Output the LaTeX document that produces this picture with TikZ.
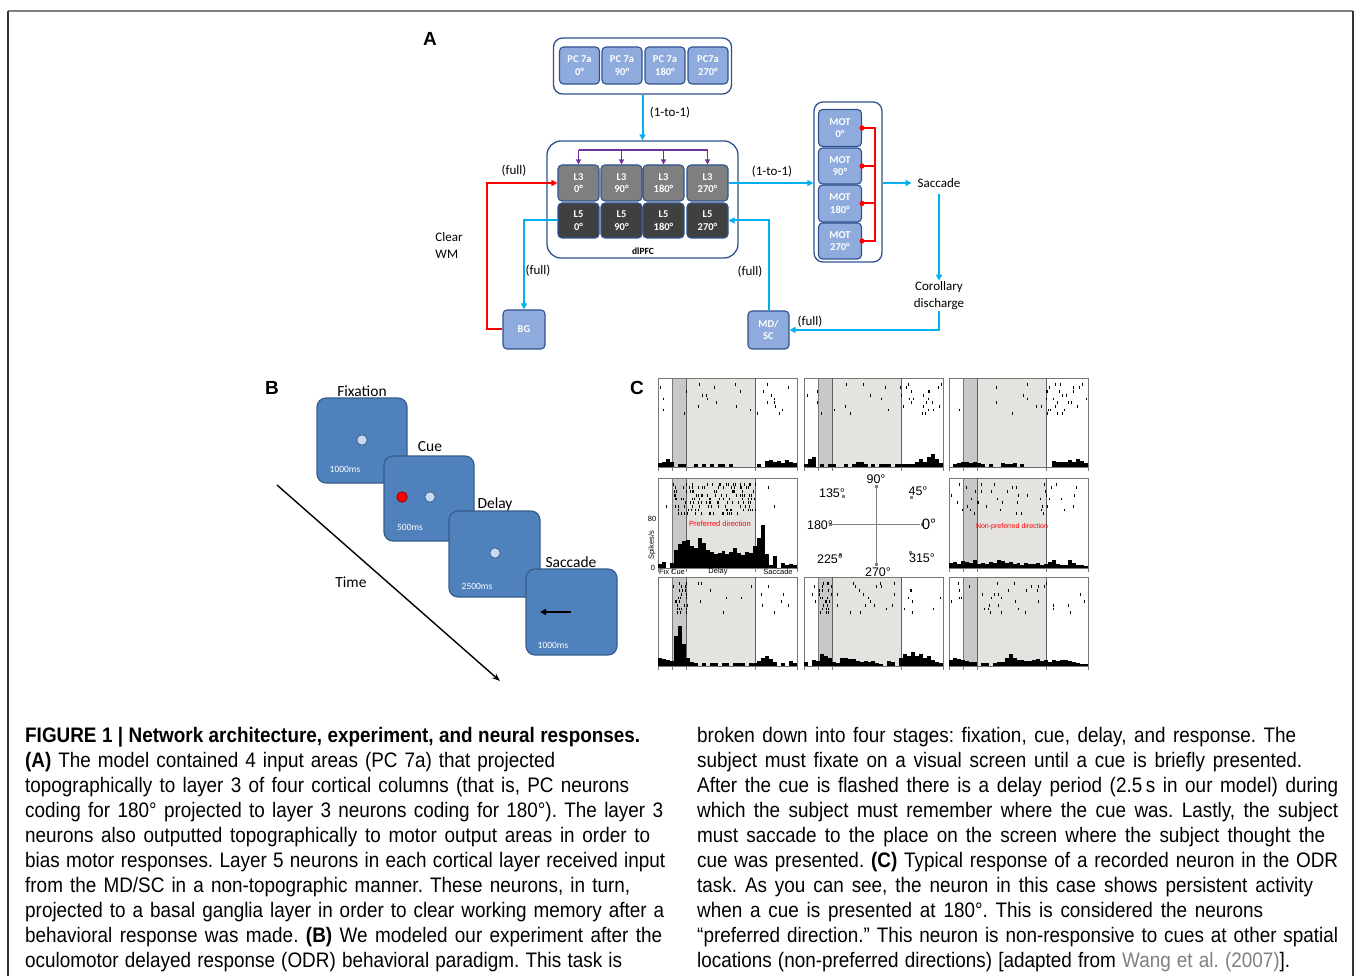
\documentclass[tikz,border=0pt]{standalone}
\usepackage{fontspec}
\setmainfont{Liberation Sans}
\newfontfamily\carl{Carlito}
\newfontfamily\capfont{Liberation Sans}[FakeStretch=0.9]
\usetikzlibrary{arrows.meta}
\definecolor{boxfill}{RGB}{143,170,220}
\definecolor{boxline}{RGB}{47,82,143}
\definecolor{cyanA}{RGB}{0,176,240}
\definecolor{purp}{RGB}{112,48,160}
\definecolor{lthree}{RGB}{127,127,127}
\definecolor{lfive}{RGB}{64,64,64}
\definecolor{scr}{RGB}{79,129,189}
\definecolor{scrline}{RGB}{56,93,138}
\definecolor{dotc}{RGB}{198,217,241}
\definecolor{dband}{RGB}{200,200,198}
\definecolor{lband}{RGB}{229,227,223}
\definecolor{fram}{RGB}{120,120,120}
\definecolor{citeg}{RGB}{128,128,128}
\tikzset{
  tip/.style={-{Triangle[length=6pt,width=6pt]}},
  cl/.style={draw=cyanA,line width=2pt},
  redl/.style={draw=red,line width=2pt},
  pline/.style={draw=purp,line width=1.5pt},
  cont/.style={draw=boxline,line width=1.3pt,rounded corners=9pt,fill=white},
  bbox/.style={draw=boxline,line width=1.1pt,rounded corners=4pt,fill=boxfill,text=white,
     font=\carl\bfseries\fontsize{10.5}{12.5}\selectfont,align=center,inner sep=0pt},
  lthreebox/.style={bbox,fill=lthree,minimum width=41,minimum height=36},
  lfivebox/.style={bbox,fill=lfive,minimum width=41,minimum height=35},
  lab/.style={font=\carl\fontsize{13}{17}\selectfont,inner sep=1pt},
  screen/.style={draw=scrline,line width=1.2pt,rounded corners=9pt,fill=scr},
  scrlab/.style={font=\carl\fontsize{15.5}{17}\selectfont,inner sep=0pt},
  mslab/.style={font=\carl\fontsize{9.5}{11}\selectfont,text=white,inner sep=0pt},
  dotn/.style={circle,fill=dotc,draw=scrline,line width=0.8pt,minimum size=10.5,inner sep=0pt},
  panlet/.style={font=\bfseries\fontsize{19}{21}\selectfont,inner sep=0pt},
  tk/.style={draw=black,line width=0.7pt},
  clab/.style={font=\fontsize{12.5}{14}\selectfont,inner sep=0pt},
  smlab/.style={font=\fontsize{7.5}{9}\selectfont,inner sep=0pt},
  capt/.style={font=\capfont\fontsize{21}{25}\selectfont\frenchspacing,inner sep=0pt,anchor=base west},
}
\newcommand\myras[7]{%
  \foreach \rr in {1,...,#3}{%
    \foreach \kk in {1,...,#4}{%
      \pgfmathsetmacro\xx{#1+2+rnd*135}%
      \draw[tk] (\xx,#2+1+\rr*3.7) -- ++(0,2.8);
    }%
    \foreach \kk in {1,...,#7}{%
      \pgfmathsetmacro\xx{#1+#5+rnd*(#6-#5)}%
      \draw[tk] (\xx,#2+1+\rr*3.7) -- ++(0,2.8);
    }%
  }%
}
\newcommand\myhist[3]{%
  \foreach \hh [count=\ii] in {#3}{%
    \fill[black] (#1+\ii*3.97-3.97,#2) rectangle ++(3.97,-\hh);
  }%
}
\newcommand\mypanel[3]{%
  \fill[dband] (#1+14,#2) rectangle (#1+28,#3);
  \fill[lband] (#1+28,#2) rectangle (#1+97,#3);
  \draw[fram,line width=0.6pt] (#1,#2) rectangle (#1+139,#3);
  \draw[fram,line width=0.5pt] (#1+14,#2) -- (#1+14,#3);
  \draw[fram!80!black,line width=0.8pt] (#1+28,#2) -- (#1+28,#3);
  \draw[fram!80!black,line width=0.8pt] (#1+97,#2) -- (#1+97,#3);
  \foreach \tt in {0,14,28,97,139}{\draw[fram,line width=0.6pt] (#1+\tt,#3) -- ++(0,4);}
}
\begin{document}
\begin{tikzpicture}[x=1pt,y=-1pt]
\useasboundingbox (0,0) rectangle (1355,976);
\fill[white] (0,0) rectangle (1355,976);
% frame
\draw[line width=1.5pt,gray] (8,11) -- (1353,11);
\draw[line width=1.5pt,black!80] (8,11) -- (8,976);
\draw[line width=1.5pt,black!80] (1353,11) -- (1353,976);

% ---------------- Panel A ----------------
\node[panlet] (A) at (430,39) {A};
\node[cont,minimum width=178,minimum height=56] (pcc) at (642.5,66) {};
\node[bbox,minimum width=40,minimum height=37] (pc0) at (579.5,65.5) {PC 7a\\0°};
\node[bbox,minimum width=40,minimum height=37] (pc1) at (622,65.5) {PC 7a\\90°};
\node[bbox,minimum width=40,minimum height=37] (pc2) at (665,65.5) {PC 7a\\180°};
\node[bbox,minimum width=40,minimum height=37] (pc3) at (708,65.5) {PC7a\\270°};

\node[cont,minimum width=191,minimum height=117,rounded corners=14pt] (dl) at (642.5,199.5) {};
\draw[cl,tip] (pcc.south) -- (dl.north);
\node[lab] (l11) at (670,113) {(1-to-1)};
\node[font=\carl\bfseries\fontsize{9.5}{11}\selectfont,inner sep=0pt] (dlt) at (643,251) {dlPFC};
\node[lthreebox] (a0) at (578.5,183) {L3\\0°};
\node[lthreebox] (a1) at (621.5,183) {L3\\90°};
\node[lthreebox] (a2) at (663.5,183) {L3\\180°};
\node[lthreebox] (a3) at (707.5,183) {L3\\270°};
\node[lfivebox] (b0) at (578.5,220.5) {L5\\0°};
\node[lfivebox] (b1) at (621.5,220.5) {L5\\90°};
\node[lfivebox] (b2) at (663.5,220.5) {L5\\180°};
\node[lfivebox] (b3) at (707.5,220.5) {L5\\270°};
\coordinate (ptop) at (600,150);
\draw[pline] (a0.north |- ptop) -- (a3.north |- ptop);
\foreach \n in {a0,a1,a2,a3}{\draw[pline,-{Triangle[length=5pt,width=5pt]}] (\n.north |- ptop) -- (\n.north);}

% MOT
\node[cont,minimum width=68,minimum height=160,rounded corners=9pt] (mot) at (848,182) {};
\node[bbox,minimum width=43,minimum height=37] (m0) at (840,128) {MOT\\0°};
\node[bbox,minimum width=43,minimum height=36] (m1) at (840,166) {MOT\\90°};
\node[bbox,minimum width=43,minimum height=37] (m2) at (840,203.5) {MOT\\180°};
\node[bbox,minimum width=43,minimum height=36] (m3) at (840,241) {MOT\\270°};
\coordinate (rx) at (875,0);
\draw[redl] (m0.east) -- (m0.east -| rx) -- (m3.east -| rx) -- (m3.east);
\draw[redl] (m1.east) -- (m1.east -| rx);
\draw[redl] (m2.east) -- (m2.east -| rx);
\foreach \n in {m0,m1,m2,m3}{\fill[red] (\n.east) circle (2.6);}

\draw[cl,tip] (a3.east) -- (a3.east -| mot.west);
\node[lab] (l12) at (772,172) {(1-to-1)};
\node[lab,inner sep=6pt] (sac) at (939,183) {Saccade};
\draw[cl,tip] (mot.east |- a3.east) -- (sac.west);
\node[lab,align=center] (cor) at (939,296) {Corollary\\discharge};
\draw[cl,tip] (sac.south) -- (cor.north);

% BG and MD/SC
\node[bbox,minimum width=42,minimum height=39] (bg) at (524,329.5) {BG};
\node[bbox,minimum width=41,minimum height=38] (md) at (768.5,330) {MD/\\SC};
\draw[cl,tip] (cor.south) |- (md.east);
\node[lab] (lf5) at (810,322) {(full)};
\draw[cl,tip] (md.north) |- (b3.east);
\node[lab] (lf4) at (750,272) {(full)};
\draw[cl,tip] (b0.west) -| (bg.north);
\node[lab] (lf3) at (538,271) {(full)};
\coordinate (redx) at (487,0);
\draw[redl,tip] (bg.west) -- (bg.west -| redx) -- (redx |- a0.west) -- (a0.west);
\node[lab] (lf1) at (514,171) {(full)};
\node[lab,align=left] (cwm) at (449,245) {Clear\\WM};

% ---------------- Panel B ----------------
\node[panlet] (B) at (272,388) {B};
\node[screen,minimum width=90,minimum height=85] (s1) at (362,440.5) {};
\node[screen,minimum width=90,minimum height=85] (s2) at (429,498.5) {};
\node[screen,minimum width=91,minimum height=86] (s3) at (494.5,554) {};
\node[screen,minimum width=91,minimum height=86] (s4) at (571.5,612) {};
\node[dotn] (d1) at (362,440) {};
\node[dotn,fill=red,draw=red!60!black] (d2) at (402,497) {};
\node[dotn] (d3) at (430,497) {};
\node[dotn] (d4) at (495,553) {};
\coordinate (sa1) at (571,612);
\coordinate (sa2) at (540,612);
\draw[black,line width=1.6pt,-{Triangle[length=6pt,width=6pt]}] (sa1) -- (sa2);
\node[scrlab] (tf) at (362,391) {Fixation};
\node[scrlab] (tc) at (430,447) {Cue};
\node[scrlab] (td) at (495,504) {Delay};
\node[scrlab] (ts) at (571,562) {Saccade};
\node[mslab] (ms1) at (345,469) {1000ms};
\node[mslab] (ms2) at (410,527) {500ms};
\node[mslab] (ms3) at (477,586) {2500ms};
\node[mslab] (ms4) at (553,645) {1000ms};
\coordinate (t0) at (277,485);
\coordinate (t1) at (500,681);
\draw[black,line width=1.4pt,-{Stealth[length=8pt,width=6pt]}] (t0) -- (t1);
\node[scrlab] (time) at (351,582) {Time};

% ---------------- Panel C ----------------
\node[panlet] (C) at (637,388) {C};
\pgfmathsetseed{4242}
% row 1
\mypanel{658}{378}{467}
\myras{658}{378}{9}{2}{97}{139}{1}
\myhist{658}{467}{4,5,8,5,0,3,3,0,0,3,0,3,0,3,0,3,3,0,3,0,0,0,0,0,0,3,0,6,7,5,6,4,7,5,4}
\mypanel{804}{378}{467}
\myras{804}{378}{9}{2}{97}{139}{2}
\myhist{804}{467}{3,8,10,0,3,0,3,3,0,0,3,0,3,5,5,3,0,3,0,3,3,3,0,3,3,3,3,3,5,8,5,10,13,8,4}
\mypanel{949}{378}{467}
\myras{949}{378}{9}{2}{97}{139}{2}
\myhist{949}{467}{0,3,4,5,5,4,5,4,3,0,3,0,0,4,3,3,4,0,3,0,0,0,0,0,0,0,6,5,5,5,7,5,8,6,4}
% row 2
\mypanel{658}{478}{568}
\myras{658}{478}{9}{2}{15}{98}{14}
\myhist{658}{568}{4,6,0,5,18,24,27,28,22,20,30,25,18,16,14,15,17,14,16,20,15,13,16,15,22,30,43,14,3,12,0,5,3,4,3}
\mypanel{949}{478}{568}
\myras{949}{478}{9}{2}{15}{98}{3}
\myhist{949}{568}{5,6,4,7,6,5,8,4,5,4,6,5,8,7,5,6,4,5,3,5,4,4,5,3,4,6,8,4,3,3,8,5,3,3,2}
% row 3
\mypanel{658}{577}{666}
\myras{658}{577}{9}{2}{15}{29}{3}
\myhist{658}{666}{8,7,6,5,30,40,22,8,4,3,0,3,0,3,3,0,3,3,0,3,3,3,0,3,3,5,8,10,7,4,0,3,0,5,3}
\mypanel{804}{577}{666}
\myras{804}{577}{9}{4}{15}{29}{2}
\myhist{804}{666}{4,0,6,5,12,10,8,4,3,8,8,7,7,5,4,5,4,5,3,2,0,5,4,0,8,12,10,14,10,12,8,10,6,4,3}
\mypanel{949}{577}{666}
\myras{949}{577}{9}{2}{28}{97}{2}
\myhist{949}{666}{6,8,7,6,5,4,4,0,3,3,0,3,4,4,8,12,8,6,6,5,5,6,7,5,6,4,6,5,6,6,5,4,3,2,2}

% panel labels
\node[smlab,text=red] (pref) at (720,524) {Preferred direction};
\node[smlab,text=red,font=\fontsize{7}{8}\selectfont] (npref) at (1012,527) {Non-preferred direction};
\node[smlab] (y80) at (652,519) {80};
\node[smlab] (y0) at (653,568) {0};
\node[smlab,rotate=90] (ysp) at (652,545) {Spikes/s};
\node[smlab] (xfix) at (672,572) {Fix Cue};
\node[smlab] (xdel) at (718,572) {Delay};
\node[smlab] (xsac) at (778,572) {Saccade};

% direction cross
\coordinate (cN) at (876,486);
\coordinate (cS) at (876,564);
\coordinate (cW) at (832,524);
\coordinate (cE) at (920,524);
\draw[gray,line width=0.8pt] (cN) -- (cS);
\draw[gray,line width=0.8pt] (cW) -- (cE);
\foreach \p in {(876,486),(876,564),(830,524),(922,524),(843,496),(911,497),(840,554),(910,552)}{\fill[gray] \p ++(-1.5,-1.5) rectangle ++(3,3);}
\node[clab] (d90) at (876,479) {90°};
\node[clab] (d45) at (918,491) {45°};
\node[clab] (d135) at (832,493) {135°};
\node[clab] (d180) at (820,525) {180°};
\node[clab,font=\fontsize{15}{16}\selectfont] (d0) at (929,524) {0°};
\node[clab] (d225) at (830,559) {225°};
\node[clab] (d315) at (922,558) {315°};
\node[clab] (d270) at (878,572) {270°};

% ---------------- Caption ----------------
\node[capt] (lc1) at (25,742) {\makebox[615pt][s]{\bfseries FIGURE 1 | Network architecture, experiment, and neural responses.}};
\node[capt] (lc2) at (25,767.1) {\makebox[530pt][s]{\textbf{(A)} The model contained 4 input areas (PC 7a) that projected}};
\node[capt] (lc3) at (25,792.2) {\makebox[604pt][s]{topographically to layer 3 of four cortical columns (that is, PC neurons}};
\node[capt] (lc4) at (25,817.3) {\makebox[638pt][s]{coding for 180° projected to layer 3 neurons coding for 180°). The layer 3}};
\node[capt] (lc5) at (25,842.4) {\makebox[625pt][s]{neurons also outputted topographically to motor output areas in order to}};
\node[capt] (lc6) at (25,867.5) {\makebox[640pt][s]{bias motor responses. Layer 5 neurons in each cortical layer received input}};
\node[capt] (lc7) at (25,892.6) {\makebox[605pt][s]{from the MD/SC in a non-topographic manner. These neurons, in turn,}};
\node[capt] (lc8) at (25,917.7) {\makebox[639pt][s]{projected to a basal ganglia layer in order to clear working memory after a}};
\node[capt] (lc9) at (25,942.8) {\makebox[637pt][s]{behavioral response was made. \textbf{(B)} We modeled our experiment after the}};
\node[capt] (lc10) at (25,967.9) {\makebox[597pt][s]{oculomotor delayed response (ODR) behavioral paradigm. This task is}};

\node[capt] (rc1) at (697,742) {\makebox[599pt][s]{broken down into four stages: fixation, cue, delay, and response. The}};
\node[capt] (rc2) at (697,767.1) {\makebox[605pt][s]{subject must fixate on a visual screen until a cue is briefly presented.}};
\node[capt] (rc3) at (697,792.2) {\makebox[641pt][s]{After the cue is flashed there is a delay period (2.5\,s in our model) during}};
\node[capt] (rc4) at (697,817.3) {\makebox[641pt][s]{which the subject must remember where the cue was. Lastly, the subject}};
\node[capt] (rc5) at (697,842.4) {\makebox[628pt][s]{must saccade to the place on the screen where the subject thought the}};
\node[capt] (rc6) at (697,867.5) {\makebox[641pt][s]{cue was presented. \textbf{(C)} Typical response of a recorded neuron in the ODR}};
\node[capt] (rc7) at (697,892.6) {\makebox[616pt][s]{task. As you can see, the neuron in this case shows persistent activity}};
\node[capt] (rc8) at (697,917.7) {\makebox[566pt][s]{when a cue is presented at 180°. This is considered the neurons}};
\node[capt] (rc9) at (697,942.8) {\makebox[641pt][s]{“preferred direction.” This neuron is non-responsive to cues at other spatial}};
\node[capt] (rc10) at (697,967.9) {\makebox[593pt][s]{locations (non-preferred directions) [adapted from \textcolor{citeg}{Wang et al. (2007)}].}};
\end{tikzpicture}
\end{document}
